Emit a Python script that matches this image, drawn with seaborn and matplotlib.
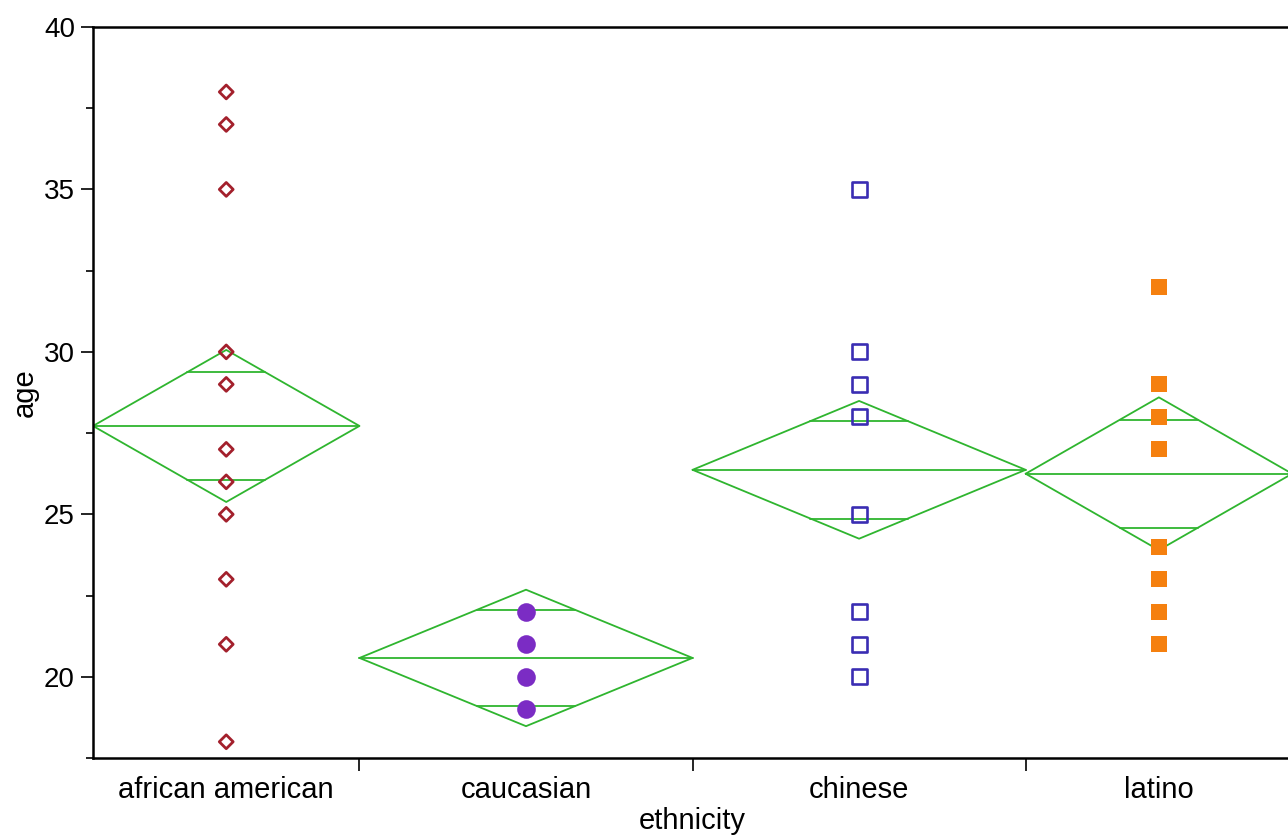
# Means diamonds plot: age by ethnicity

import seaborn as sns
import matplotlib.pyplot as plt
import numpy as np
import pandas as pd

# Data
groups = ['african american', 'caucasian', 'chinese', 'latino']
counts = [12, 15, 15, 12]                 # group sizes (diamond widths)
means = [27.72, 20.58, 26.37, 26.25]      # group means
ci_half = [2.34, 2.10, 2.12, 2.35]        # half-width of 95% CI (diamond height)

ages_aa = [38, 37, 35, 30, 29, 27, 26, 25, 23, 21, 18]
ages_cau = [22, 21, 20, 19]
ages_chi = [35, 30, 29, 28, 25, 22, 21, 20]
ages_lat = [32, 29, 28, 27, 24, 23, 22, 21]
ages = [ages_aa, ages_cau, ages_chi, ages_lat]

sns.set_style('white')
plt.rcParams['font.family'] = ['Liberation Sans', 'DejaVu Sans']
plt.rcParams['text.color'] = 'black'
plt.rcParams['axes.labelcolor'] = 'black'
plt.rcParams['xtick.color'] = 'black'
plt.rcParams['ytick.color'] = 'black'

fig = plt.figure(figsize=(12.88, 8.4), dpi=100)
ax = fig.add_axes([0.0722, 0.0976, 0.931, 0.8703])

edges = np.concatenate([[0], np.cumsum(counts)])
centers = (edges[:-1] + edges[1:]) / 2

green = '#2fb52f'
for i in range(len(groups)):
    left, right, c = edges[i], edges[i + 1], centers[i]
    m, h = means[i], ci_half[i]
    # diamond
    ax.plot([left, c, right, c, left], [m, m + h, m, m - h, m],
            color=green, lw=1.3, zorder=2)
    # mean line
    ax.plot([left, right], [m, m], color=green, lw=1.3, zorder=2)
    # overlap marks
    d = h / np.sqrt(2)
    hw = (right - left) / 2 * (1 - 1 / np.sqrt(2))
    for y in (m + d, m - d):
        ax.plot([c - hw, c + hw], [y, y], color=green, lw=1.3, zorder=2)

points = pd.DataFrame({
    'x': np.concatenate([[centers[i]] * len(a) for i, a in enumerate(ages)]),
    'age': np.concatenate(ages),
    'ethnicity': np.concatenate([[g] * len(a) for g, a in zip(groups, ages)]),
})

styles = {
    'african american': dict(marker='D', s=50, facecolor='none', edgecolor='#a3202c', linewidth=2.0),
    'caucasian': dict(marker='o', s=180, facecolor='#7b2cc4', edgecolor='#7b2cc4', linewidth=0),
    'chinese': dict(marker='s', s=115, facecolor='none', edgecolor='#3a2db3', linewidth=1.9),
    'latino': dict(marker='s', s=120, facecolor='#f5800f', edgecolor='#f5800f', linewidth=0),
}
for g in groups:
    sub = points[points['ethnicity'] == g]
    st = styles[g]
    sns.scatterplot(data=sub, x='x', y='age', ax=ax, marker=st['marker'], s=st['s'],
                    facecolor=st['facecolor'], edgecolor=st['edgecolor'],
                    linewidth=st['linewidth'], zorder=3, legend=False)

ax.set_xlim(edges[0], edges[-1])
ax.set_ylim(17.5, 40)

# x ticks: boundaries as marks, labels at group centers
ax.set_xticks(edges[1:-1])
ax.set_xticklabels([])
ax.set_xticks(centers, minor=True)
ax.set_xticklabels(groups, minor=True, fontsize=21)
ax.tick_params(axis='x', which='major', direction='out', length=9, width=1.2, bottom=True)
ax.tick_params(axis='x', which='minor', length=0, pad=13, bottom=True)

ax.set_yticks([20, 25, 30, 35, 40])
ax.set_yticks([17.5, 22.5, 27.5, 32.5, 37.5], minor=True)
ax.tick_params(axis='y', which='major', direction='out', length=9, width=1.2, labelsize=20, left=True, pad=4)
ax.tick_params(axis='y', which='minor', direction='out', length=5, width=1.2, left=True)

for side in ['left', 'bottom', 'top']:
    ax.spines[side].set_color('black')
    ax.spines[side].set_linewidth(1.8)
ax.spines['right'].set_visible(False)

ax.set_xlabel('ethnicity', fontsize=21, labelpad=2)
ax.set_ylabel('age', fontsize=21, labelpad=4)

fig.canvas.draw()
ax.xaxis.get_major_ticks()[2].tick1line.set_color('#999999')

fig.savefig('out.png', dpi=100)
